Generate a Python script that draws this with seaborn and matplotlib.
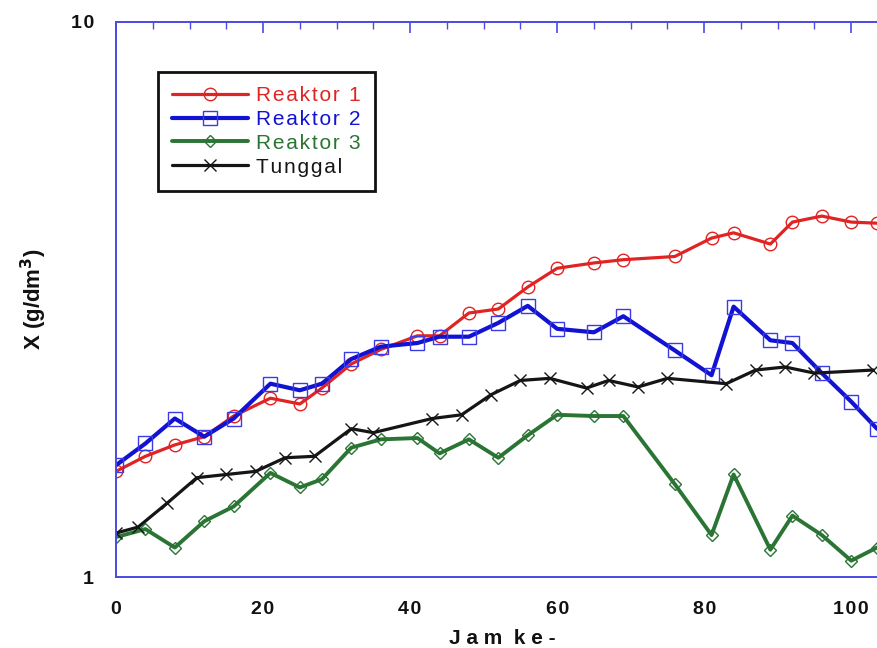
import matplotlib
matplotlib.use("Agg")
import matplotlib.pyplot as plt
import seaborn as sns
import pandas as pd
from matplotlib.ticker import FixedLocator, NullFormatter, MultipleLocator

# ---- data ----
x_reaktor = [0, 4, 8, 12, 16, 21, 25, 28, 32, 36, 41, 44, 48, 52, 56, 60, 65, 69,
             76, 81, 84, 89, 92, 96, 100, 103.5]
reaktor1 = [1.55, 1.65, 1.73, 1.79, 1.95, 2.10, 2.05, 2.19, 2.42, 2.57, 2.72, 2.72,
            2.99, 3.04, 3.33, 3.60, 3.68, 3.73, 3.78, 4.08, 4.17, 3.98, 4.36, 4.47,
            4.36, 4.34]
reaktor2 = [1.59, 1.74, 1.93, 1.79, 1.93, 2.23, 2.17, 2.23, 2.47, 2.60, 2.64, 2.71,
            2.71, 2.87, 3.08, 2.80, 2.76, 2.95, 2.56, 2.31, 3.07, 2.67, 2.64, 2.33,
            2.07, 1.85]
reaktor3 = [1.18, 1.22, 1.13, 1.26, 1.34, 1.54, 1.45, 1.50, 1.71, 1.77, 1.78, 1.67,
            1.77, 1.64, 1.80, 1.96, 1.95, 1.95, 1.47, 1.19, 1.53, 1.12, 1.29, 1.19,
            1.07, 1.13]
x_tunggal = [0, 3, 7, 11, 15, 19, 23, 27, 32, 35, 43, 47, 51, 55, 59, 64, 67, 71,
             75, 83, 87, 91, 95, 103]
tunggal = [1.20, 1.23, 1.36, 1.51, 1.53, 1.55, 1.64, 1.65, 1.85, 1.82, 1.93, 1.96,
           2.13, 2.26, 2.28, 2.19, 2.26, 2.20, 2.28, 2.23, 2.36, 2.39, 2.33, 2.36]

labels = ["Reaktor 1", "Reaktor 2", "Reaktor 3", "Tunggal"]
x_ticks = [0, 20, 40, 60, 80, 100]
y_ticks = [1, 10]

sns.set_theme(style="white")
plt.rcParams['font.family'] = ['Liberation Sans', 'DejaVu Sans']

fig = plt.figure(figsize=(8.77, 6.48), dpi=100)
W, H = 877, 648
ax = fig.add_axes([116 / W, (H - 577) / H, 772 / W, 555 / H])

series = [
    (x_reaktor, reaktor1, labels[0], "#e02424", "o", 2.3, 9, "#e02424"),
    (x_reaktor, reaktor2, labels[1], "#1212d2", "s", 3.0, 9.5, "#3b3be6"),
    (x_reaktor, reaktor3, labels[2], "#2a7434", "D", 2.8, 6.5, "#2a7434"),
    (x_tunggal, tunggal, labels[3], "#151515", "x", 2.3, 9, "#151515"),
]
for xs, ys, lab, col, mk, lw, ms, mec in series:
    df = pd.DataFrame({"x": xs, "y": ys})
    sns.lineplot(data=df, x="x", y="y", ax=ax, color=col, linewidth=lw,
                 marker=mk, markersize=ms, markerfacecolor="none",
                 markeredgecolor=mec, markeredgewidth=1.0, label=lab,
                 sort=False, estimator=None)

ax.set_yscale("log")
ax.set_ylim(1, 10)
ax.set_xlim(0, 105)

spine_col = "#4a4ae6"
for s in ax.spines.values():
    s.set_color(spine_col)
    s.set_linewidth(1.4)

hs = "\u200a"
ax.yaxis.set_major_locator(FixedLocator(y_ticks))
ax.set_yticklabels([hs.join(list(str(v))) for v in y_ticks])
ax.yaxis.set_minor_locator(FixedLocator([2, 3, 4, 5, 6, 7, 8, 9]))
ax.yaxis.set_minor_formatter(NullFormatter())

ax.xaxis.set_major_locator(FixedLocator(x_ticks))
ax.set_xticklabels([hs.join(list(str(v))) for v in x_ticks])
ax.xaxis.set_minor_locator(MultipleLocator(5))

ax.tick_params(axis="both", which="both", direction="in", colors=spine_col,
               labelcolor="#111111", top=True, right=True)
ax.tick_params(axis="both", which="major", length=8, width=1.2)
ax.tick_params(axis="both", which="minor", length=5, width=1.0)
ax.tick_params(axis="x", which="major", pad=17, labelsize=14)
ax.tick_params(axis="y", which="major", pad=16, labelsize=14)
for t in ax.get_xticklabels() + ax.get_yticklabels():
    t.set_fontweight("bold")

ax.set_xlabel("J a m  k e -", fontsize=15, fontweight="bold", color="#111111",
              labelpad=8)
ax.set_ylabel("X (g/dm$^{\\mathbf{3}}$)", fontsize=16, fontweight="bold",
              color="#111111")
ax.yaxis.set_label_coords((49 - 116) / 772, 0.5)

leg = ax.legend(loc="upper left", bbox_to_anchor=(158 / W, 1 - 72 / H),
                bbox_transform=fig.transFigure, borderaxespad=0,
                fancybox=False, framealpha=1, edgecolor="#111111",
                fontsize=15, handlelength=3.65, handletextpad=0.38,
                labelspacing=0.23, borderpad=0.68)
leg.get_frame().set_linewidth(2.0)
for txt, (_, _, _, col, *_r) in zip(leg.get_texts(), series):
    txt.set_color(col)
    txt.set_text(hs.join(list(txt.get_text())))

ax.grid(False)
fig.savefig("out.png", dpi=100)
